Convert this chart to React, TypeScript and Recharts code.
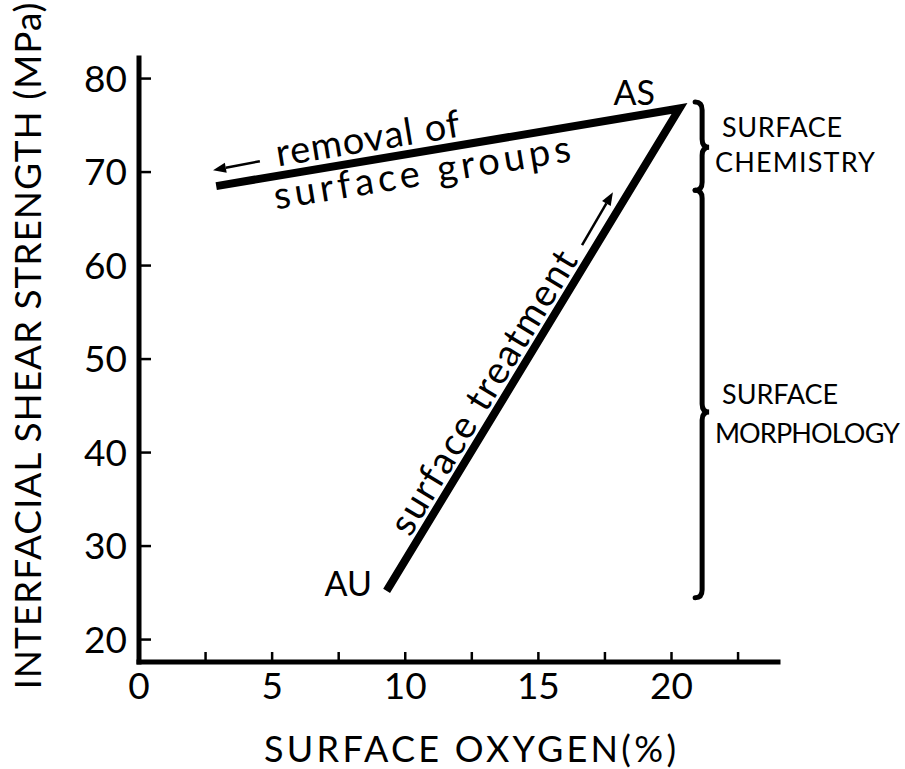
import React from 'react';
import { LineChart, Line, XAxis, YAxis, ReferenceDot, ReferenceLine } from 'recharts';

const FONT = 'Lato, "DejaVu Sans", sans-serif';

// Path of the experiment: removal end -> AS -> AU
const pathOxygen = [2.9, 20.3, 9.3];
const pathStrength = [68.5, 76.8, 25.2];
const pathData = pathOxygen.map((o, i) => ({ oxygen: o, strength: pathStrength[i] }));

const xTicks = [0, 2.5, 5, 7.5, 10, 12.5, 15, 17.5, 20, 22.5];
const yTicks = [20, 30, 40, 50, 60, 70, 80];

const xTitle = 'SURFACE  OXYGEN(%)';
const yTitle = 'INTERFACIAL SHEAR STRENGTH (MPa)';

// point labels (data coords of text anchor)
const pointLabels = [
  { text: 'AS', oxygen: 19.38, strength: 77.15 },
  { text: 'AU', oxygen: 8.75, strength: 24.65 },
];

// sloped annotation texts (data coords of baseline start)
const slopedTexts = [
  { text: 'removal of', oxygen: 5.22, strength: 70.6 },
  { text: 'surface groups', oxygen: 5.15, strength: 66.0 },
  { text: 'surface treatment', oxygen: 10.18, strength: 30.87 },
];
const slopedAngles = [-9.3, -9.3, -58.7];
const slopedLengths = [186, 300, 325];

// arrows (tail -> head in data coords)
const arrows = [
  { from: { oxygen: 4.54, strength: 71.16 }, to: { oxygen: 2.78, strength: 70.2 } },
  { from: { oxygen: 16.64, strength: 62.18 }, to: { oxygen: 17.8, strength: 67.85 } },
];

// braces: x, top, cusp, bottom (data coords)
const braces = [
  { oxygen: 21.15, top: 77.5, cusp: 72.66, bottom: 68.06 },
  { oxygen: 21.15, top: 68.06, cusp: 44.34, bottom: 24.46 },
];

// brace labels
const braceLabels = [
  { text: 'SURFACE', oxygen: 21.9, strength: 73.73 },
  { text: 'CHEMISTRY', oxygen: 21.63, strength: 69.99 },
  { text: 'SURFACE', oxygen: 21.9, strength: 45.19 },
  { text: 'MORPHOLOGY', oxygen: 21.63, strength: 41.02 },
];
const braceLabelLengths = [120, 160, 116, 185];

const XTick = (props: any) => {
  const { x, y, payload } = props;
  const v = payload.value;
  const labeled = v % 5 === 0;
  return (
    <g>
      {v !== 0 && <line x1={x} x2={x} y1={y} y2={y - 10} stroke="#000" strokeWidth={2.5} />}
      {labeled && (
        <text x={x} y={y + 37} textAnchor="middle" fontSize={37} fontFamily={FONT} fill="#000">
          {v}
        </text>
      )}
    </g>
  );
};

const YTick = (props: any) => {
  const { x, y, payload } = props;
  return (
    <g>
      <line x1={x} x2={x + 12} y1={y} y2={y} stroke="#000" strokeWidth={2.5} />
      <text x={x - 12} y={y + 13} textAnchor="end" fontSize={37} fontFamily={FONT} fill="#000">
        {payload.value}
      </text>
    </g>
  );
};

const ArrowShape = (props: any) => {
  const { x1, y1, x2, y2 } = props;
  const dx = x2 - x1;
  const dy = y2 - y1;
  const len = Math.sqrt(dx * dx + dy * dy);
  const ux = dx / len;
  const uy = dy / len;
  const hl = 13;
  const hw = 5;
  const bx = x2 - ux * hl;
  const by = y2 - uy * hl;
  const pts = `${x2},${y2} ${bx - uy * hw},${by + ux * hw} ${bx + uy * hw},${by - ux * hw}`;
  return (
    <g>
      <line x1={x1} y1={y1} x2={bx} y2={by} stroke="#000" strokeWidth={2.5} />
      <polygon points={pts} fill="#000" />
    </g>
  );
};

const makeBrace = (frac: number) => (props: any) => {
  const { x1, y1, y2 } = props;
  const top = Math.min(y1, y2);
  const bot = Math.max(y1, y2);
  const cy = top + frac * (bot - top);
  const xv = x1;
  const d = `M ${xv - 7} ${top} Q ${xv} ${top} ${xv} ${top + 8} L ${xv} ${cy - 8} Q ${xv} ${cy} ${xv + 7} ${cy} Q ${xv} ${cy} ${xv} ${cy + 8} L ${xv} ${bot - 8} Q ${xv} ${bot} ${xv - 7} ${bot}`;
  return <path d={d} stroke="#000" strokeWidth={5} fill="none" strokeLinecap="round" />;
};

const XTitle = () => {
  const cx = 470;
  return (
    <text x={cx} y={762} textAnchor="middle" fontSize={36} fontFamily={FONT} fill="#000"
      textLength={412} lengthAdjust="spacing">
      {xTitle}
    </text>
  );
};

const YTitle = () => {
  const x = 41;
  const y = 346;
  return (
    <text x={x} y={y} transform={`rotate(-90 ${x} ${y})`} textAnchor="middle" fontSize={37} fontFamily={FONT}
      fill="#000" textLength={687} lengthAdjust="spacing">
      {yTitle}
    </text>
  );
};

export default function App() {
  return (
    <div style={{ position: 'absolute', left: 0, top: 0, background: '#fff' }}>
      <LineChart width={905} height={769} data={pathData} margin={{ top: 58, right: 127, bottom: 0, left: 0 }}>
        <XAxis
          dataKey="oxygen"
          type="number"
          domain={[0, 24]}
          ticks={xTicks}
          interval={0}
          tickSize={0}
          tickMargin={0}
          tickLine={false}
          tick={<XTick />}
          height={107}
          axisLine={{ stroke: '#000', strokeWidth: 5, strokeLinecap: 'square' }}
          label={<XTitle />}
        />
        <YAxis
          type="number"
          domain={[17.6, 82.2]}
          ticks={yTicks}
          interval={0}
          tickSize={0}
          tickMargin={0}
          tickLine={false}
          tick={<YTick />}
          width={139}
          axisLine={{ stroke: '#000', strokeWidth: 5, strokeLinecap: 'square' }}
          label={<YTitle />}
        />
        <Line
          dataKey="strength"
          stroke="#000"
          strokeWidth={8}
          dot={false}
          activeDot={false}
          isAnimationActive={false}
          strokeLinejoin="miter"
        />
        {pointLabels.map((p, i) => (
          <ReferenceDot
            key={`pl${i}`}
            x={p.oxygen}
            y={p.strength}
            r={0}
            ifOverflow="visible"
            shape={(sp: any) => (
              <text x={sp.cx} y={sp.cy} textAnchor="end" fontSize={34} fontFamily={FONT} fill="#000">
                {p.text}
              </text>
            )}
          />
        ))}
        {slopedTexts.map((p, i) => (
          <ReferenceDot
            key={`st${i}`}
            x={p.oxygen}
            y={p.strength}
            r={0}
            ifOverflow="visible"
            shape={(sp: any) => (
              <text
                x={sp.cx}
                y={sp.cy}
                transform={`rotate(${slopedAngles[i]} ${sp.cx} ${sp.cy})`}
                textAnchor="start"
                fontSize={38}
                fontFamily={FONT}
                fill="#000"
                textLength={slopedLengths[i]}
                lengthAdjust="spacing"
              >
                {p.text}
              </text>
            )}
          />
        ))}
        {arrows.map((a, i) => (
          <ReferenceLine
            key={`ar${i}`}
            segment={[
              { x: a.from.oxygen, y: a.from.strength },
              { x: a.to.oxygen, y: a.to.strength },
            ]}
            ifOverflow="visible"
            shape={(sp: any) => <ArrowShape {...sp} />}
          />
        ))}
        {braces.map((b, i) => {
          const frac = (b.top - b.cusp) / (b.top - b.bottom);
          const Shape = makeBrace(frac);
          return (
            <ReferenceLine
              key={`br${i}`}
              segment={[
                { x: b.oxygen, y: b.top },
                { x: b.oxygen, y: b.bottom },
              ]}
              ifOverflow="visible"
              shape={(sp: any) => <Shape {...sp} />}
            />
          );
        })}
        {braceLabels.map((p, i) => (
          <ReferenceDot
            key={`bl${i}`}
            x={p.oxygen}
            y={p.strength}
            r={0}
            ifOverflow="visible"
            shape={(sp: any) => (
              <text
                x={sp.cx}
                y={sp.cy}
                textAnchor="start"
                fontSize={27}
                fontFamily={FONT}
                fill="#000"
                textLength={braceLabelLengths[i]}
                lengthAdjust="spacing"
              >
                {p.text}
              </text>
            )}
          />
        ))}
      </LineChart>
    </div>
  );
}
